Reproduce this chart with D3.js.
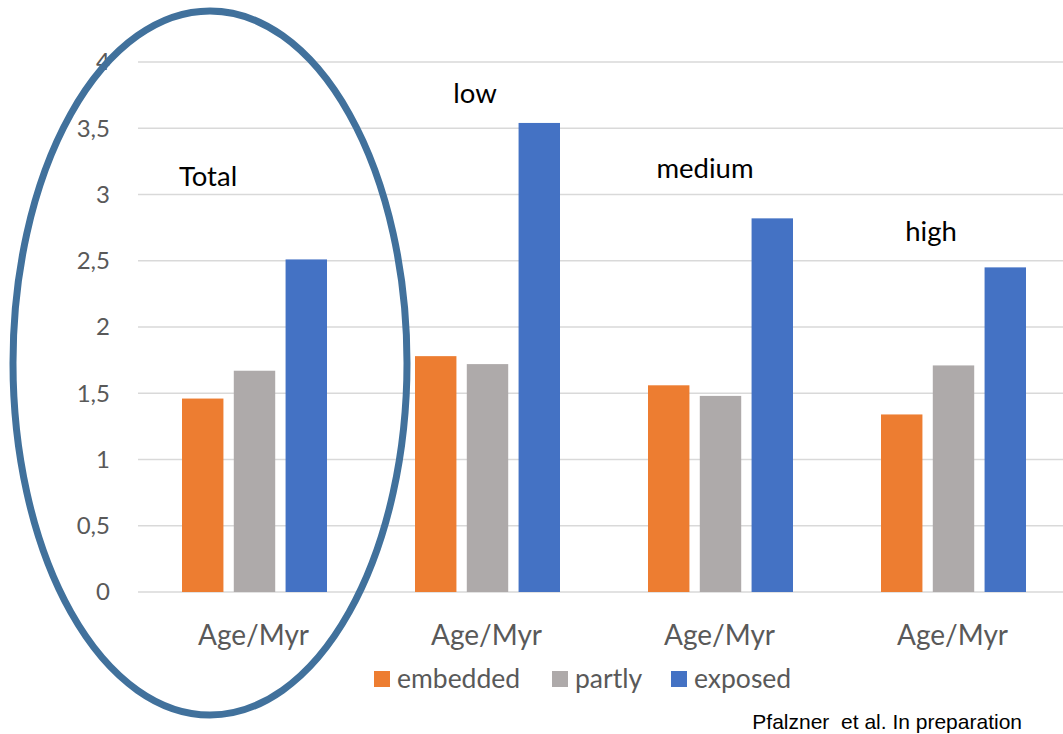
<!DOCTYPE html>
<html>
<head>
<meta charset="utf-8">
<script src="https://cdn.jsdelivr.net/npm/d3@7"></script>
<style>
  html, body { margin: 0; padding: 0; background: #fff; }
  svg { display: block; }
</style>
</head>
<body>
<svg id="chart" width="1063" height="734"></svg>
<script>
// Mean age (Myr) of clusters by embedding state, for the full sample and by density
const groups = ["Total", "low", "medium", "high"];
const categoryLabels = ["Age/Myr", "Age/Myr", "Age/Myr", "Age/Myr"];
const seriesNames = ["embedded", "partly", "exposed"];
const embedded = [1.46, 1.78, 1.56, 1.34];
const partly = [1.67, 1.72, 1.48, 1.71];
const exposed = [2.51, 3.54, 2.82, 2.45];
const yTicks = [0, 0.5, 1, 1.5, 2, 2.5, 3, 3.5, 4];
const seriesColors = ["#ED7D31", "#AEAAAA", "#4472C4"];
const footnote = "Pfalzner  et al. In preparation";

const series = [embedded, partly, exposed];
const svg = d3.select("#chart");
const sans = "Lato, 'Open Sans', sans-serif";

const x0 = d3.scaleBand().domain(d3.range(groups.length)).range([138, 1070]).paddingInner(0).paddingOuter(0);
const x1 = d3.scaleBand().domain(d3.range(seriesNames.length)).range([44, x0.bandwidth() - 44]).paddingInner(0.2).paddingOuter(0);
const y = d3.scaleLinear().domain([0, 4]).range([592, 62]);

const fmt = v => String(v).replace(".", ",");

// gridlines
svg.append("g").selectAll("line").data(yTicks).join("line")
  .attr("x1", 138).attr("x2", 1063)
  .attr("y1", d => y(d)).attr("y2", d => y(d))
  .attr("stroke", "#D9D9D9").attr("stroke-width", 1.5);

// y tick labels
svg.append("g").selectAll("text").data(yTicks).join("text")
  .attr("x", 110).attr("y", d => y(d))
  .attr("dy", "0.35em").attr("text-anchor", "end")
  .attr("font-family", sans).attr("font-size", 24)
  .attr("fill", "#595959")
  .text(fmt);

// bars
const g = svg.append("g").selectAll("g").data(groups).join("g")
  .attr("transform", (d, i) => `translate(${x0(i)},0)`);
g.selectAll("rect")
  .data((d, i) => series.map((s, k) => ({ k, v: s[i] })))
  .join("rect")
  .attr("x", d => x1(d.k))
  .attr("width", x1.bandwidth())
  .attr("y", d => y(d.v))
  .attr("height", d => y(0) - y(d.v))
  .attr("fill", d => seriesColors[d.k]);

// category labels
svg.append("g").selectAll("text").data(categoryLabels).join("text")
  .attr("x", (d, i) => x0(i) + x0.bandwidth() / 2 - 1)
  .attr("y", 645)
  .attr("text-anchor", "middle")
  .attr("font-family", sans).attr("font-size", 28)
  .attr("fill", "#595959")
  .text(d => d);

// group titles
const titlePos = [{ x: 208, y: 186 }, { x: 475, y: 103 }, { x: 705, y: 178 }, { x: 931, y: 241 }];
svg.append("g").selectAll("text").data(groups).join("text")
  .attr("x", (d, i) => titlePos[i].x).attr("y", (d, i) => titlePos[i].y)
  .attr("text-anchor", "middle")
  .attr("font-family", sans).attr("font-size", 27.5)
  .attr("fill", "#000")
  .text(d => d);

// legend
const legendX = [374, 552, 671];
const lg = svg.append("g").selectAll("g").data(seriesNames).join("g")
  .attr("transform", (d, i) => `translate(${legendX[i]},671)`);
lg.append("rect").attr("width", 16).attr("height", 16).attr("fill", (d, i) => seriesColors[i]);
lg.append("text").attr("x", 23).attr("y", 8).attr("dy", "0.35em")
  .attr("font-family", sans).attr("font-size", 26.5)
  .attr("fill", "#595959").text(d => d);

// highlight ring around the full sample
svg.append("ellipse")
  .attr("cx", 210).attr("cy", 363).attr("rx", 197).attr("ry", 352)
  .attr("fill", "none").attr("stroke", "#41719C").attr("stroke-width", 7);

// source note
svg.append("text")
  .attr("x", 1022).attr("y", 729).attr("text-anchor", "end")
  .style("white-space", "pre")
  .attr("font-family", "'Liberation Sans', Arial, sans-serif").attr("font-size", 21)
  .attr("fill", "#000").text(footnote);
</script>
</body>
</html>
